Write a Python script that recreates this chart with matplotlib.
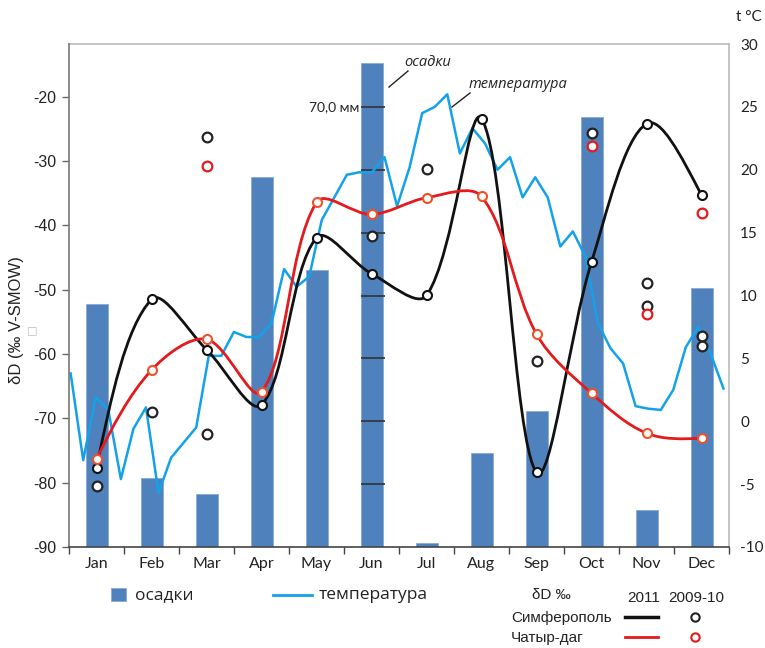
import numpy as np
import matplotlib
matplotlib.use("Agg")
import matplotlib.pyplot as plt
from matplotlib.path import Path
from matplotlib.patches import PathPatch, Rectangle
from matplotlib.lines import Line2D

plt.rcParams['axes.unicode_minus'] = False

# --- data ---
months = ['Jan', 'Feb', 'Mar', 'Apr', 'May', 'Jun', 'Jul', 'Aug', 'Sep', 'Oct', 'Nov', 'Dec']
precip_mm = [38.7, 11.0, 8.4, 58.9, 44.1, 77.0, 0.6, 15.0, 21.6, 68.4, 5.9, 41.2]

# weekly mean temperature, deg C
temp_weekly = [3.8, -3.1, 1.9, 0.9, -4.6, -0.6, 1.1, -5.7, -2.9, -1.7, -0.5,
               5.2, 5.2, 7.1, 6.7, 6.7, 7.8, 12.1, 10.7, 11.5, 16.0, 17.8,
               19.6, 19.8, 19.8, 21.0, 17.1, 20.2, 24.5, 25.0, 26.0, 21.3,
               23.3, 22.1, 20.0, 21.0, 17.8, 19.4, 17.8, 13.9, 15.1, 13.1,
               7.8, 5.8, 4.6, 1.2, 1.0, 0.9, 2.5, 5.9, 7.5, 5.3, 2.6]

# dD 2011, monthly
simf_2011 = [-77.7, -51.5, -59.3, -67.9, -41.9, -47.5, -50.9, -23.4, -78.4, -45.7, -24.2, -35.3]
chatyr_2011 = [-76.3, -62.5, -57.7, -65.9, -36.4, -38.3, -35.7, -35.5, -56.9, -66.1, -72.3, -73.1]

# dD 2009-10 (month index, value)
simf_0910_month = [0, 1, 2, 2, 5, 6, 8, 9, 10, 10, 11, 11]
simf_0910_val = [-80.5, -69.0, -72.5, -26.3, -41.6, -31.3, -61.1, -25.6, -49.0, -52.6, -57.2, -58.8]
chatyr_0910_month = [2, 9, 10, 11]
chatyr_0910_val = [-30.8, -27.7, -53.7, -38.1]

gauge_mm = [10, 20, 30, 40, 50, 60, 70]

W, H = 765, 648
BAR = '#4F81BD'
TEMP = '#13A2E9'
RED = '#E41A1C'
REDM = '#F0502A'


def fp(x, y):
    return x / W, 1 - y / H


def smooth_path(xs, ys, sx=55.0, sy=6.43):
    # excel-like smoothed line: bezier, tangents weighted by on-screen segment length
    pts = np.column_stack([xs, ys]).astype(float)
    n = len(pts)
    scr = pts * [sx, sy]
    d = np.hypot(*np.diff(scr, axis=0).T)
    out_c = []
    in_c = []
    for i in range(n):
        if i == 0 or i == n - 1:
            out_c.append(pts[i])
            in_c.append(pts[i])
            continue
        t = (pts[i + 1] - pts[i - 1]) / 3.0
        tot = d[i - 1] + d[i]
        out_c.append(pts[i] + t * d[i] / tot)
        in_c.append(pts[i] - t * d[i - 1] / tot)
    verts = [pts[0]]
    codes = [Path.MOVETO]
    for i in range(n - 1):
        if i == 0:
            c1 = pts[0] + (in_c[1] - pts[0]) / 2
        else:
            c1 = out_c[i]
        if i + 1 == n - 1:
            c2 = pts[-1] + (out_c[-2] - pts[-1]) / 2
        else:
            c2 = in_c[i + 1]
        verts += [c1, c2, pts[i + 1]]
        codes += [Path.CURVE4] * 3
    return Path(verts, codes)


fig = plt.figure(figsize=(W / 100, H / 100), dpi=100)
rect = [69 / W, 1 - 547 / H, (729 - 69) / W, (547 - 44) / H]
ax = fig.add_axes(rect)
axp = ax.twinx()
axt = ax.twinx()
axp.set_zorder(0)
axt.set_zorder(1)
ax.set_zorder(2)
ax.patch.set_visible(False)
axt.patch.set_visible(False)

x = np.arange(12)

# precipitation bars (hidden scale 0..80 mm)
axp.bar(x, precip_mm, width=0.4, color=BAR, edgecolor='#8AAAD3', linewidth=0.6)
axp.set_ylim(0, 80)
axp.hlines(gauge_mm, 4.8, 5.24, color='#333333', lw=1.2, zorder=3)
axp.text(4.78, 70, '70,0 мм', ha='right', va='center', fontsize=10,
         family=['Lato', 'Open Sans', 'DejaVu Sans'], color='#222222')
axp.set_yticks([])
for s in axp.spines.values():
    s.set_visible(False)

# temperature
week_x = -0.47 + np.arange(len(temp_weekly)) * (11.4 + 0.47) / (len(temp_weekly) - 1)
axt.plot(week_x, temp_weekly, color=TEMP, lw=1.8)
axt.set_ylim(-10, 30)
axt.set_yticks(range(-10, 31, 5))
axt.tick_params(axis='y', length=0, pad=8, labelsize=11, labelcolor='#222222')
for lab in axt.get_yticklabels():
    lab.set_family(['Lato', 'DejaVu Sans'])
for k, s in axt.spines.items():
    s.set_visible(k in ('right', 'top'))
    s.set_color('#BBBBBB')
    s.set_linewidth(1.2)

# dD curves
ax.add_patch(PathPatch(smooth_path(x, simf_2011), fill=False, edgecolor='#111111', lw=2))
ax.add_patch(PathPatch(smooth_path(x, chatyr_2011), fill=False, edgecolor=RED, lw=2))
ax.plot(x, simf_2011, 'o', ms=6.5, mfc='white', mec='#111111', mew=1.5, ls='none')
ax.plot(x, chatyr_2011, 'o', ms=6.5, mfc='white', mec=REDM, mew=1.5, ls='none')
ax.plot(simf_0910_month, simf_0910_val, 'o', ms=7, mfc='white', mec='#222222', mew=1.6, ls='none')
ax.plot(chatyr_0910_month, chatyr_0910_val, 'o', ms=7, mfc='white', mec=RED, mew=1.6, ls='none')

ax.set_xlim(-0.5, 11.5)
ax.set_ylim(-90, -11.8)
ax.set_yticks(range(-90, -19, 10))
ax.tick_params(axis='y', direction='out', length=5, width=1, color='#666666',
               pad=4, labelsize=11.5, labelcolor='#222222')
for lab in ax.get_yticklabels():
    lab.set_family('Liberation Sans')
ax.set_xticks(x)
ax.set_xticklabels(months)
ax.set_xticks(np.arange(-0.5, 12, 1), minor=True)
ax.tick_params(axis='x', which='major', length=0, pad=7, labelsize=11.5, labelcolor='#222222')
ax.tick_params(axis='x', which='minor', direction='out', length=5, width=1, color='#444444')
for lab in ax.get_xticklabels():
    lab.set_family(['Lato', 'DejaVu Sans'])
for k, s in ax.spines.items():
    s.set_visible(k in ('left', 'bottom'))
ax.spines['left'].set_color('#777777')
ax.spines['left'].set_linewidth(1.2)
ax.spines['bottom'].set_color('#444444')
ax.spines['bottom'].set_linewidth(1.2)

# axis titles
fig.text(*fp(17, 320), 'δD (‰ V-SMOW)', rotation=90, ha='center', va='center',
         fontsize=12, family='Liberation Sans', color='#222222')
fig.text(*fp(32, 330), '□', ha='center', va='center', fontsize=8, color='#BBBBBB')
fig.text(*fp(749, 17), 't °C', ha='center', va='center', fontsize=11,
         family=['Lato', 'DejaVu Sans'], color='#222222')

# in-plot captions with leader lines
ifam = ['Open Sans', 'DejaVu Sans']
fig.text(*fp(428, 62), 'осадки', ha='center', va='center', fontsize=10.5,
         style='italic', family=ifam, color='#222222')
fig.add_artist(Line2D([389 / W, 408 / W], [1 - 87 / H, 1 - 71 / H], color='#222222', lw=1))
fig.text(*fp(518, 84), 'температура', ha='center', va='center', fontsize=10.5,
         style='italic', family=ifam, color='#222222')
fig.add_artist(Line2D([452 / W, 470 / W], [1 - 107 / H, 1 - 93 / H], color='#222222', lw=1))

# legend
lfam = ['Open Sans', 'DejaVu Sans']
fig.add_artist(Rectangle(fp(111, 601), 15 / W, 13 / H, transform=fig.transFigure,
                         facecolor=BAR, edgecolor='#8AAAD3', lw=0.6))
fig.text(*fp(135, 595), 'осадки', ha='left', va='center', fontsize=12.5, family=lfam, color='#222222')
fig.add_artist(Line2D([273 / W, 312 / W], [1 - 595 / H] * 2, color=TEMP, lw=2))
fig.text(*fp(319, 595), 'температура', ha='left', va='center', fontsize=12.5, family=lfam, color='#222222')

afam = 'Liberation Sans'
fig.text(*fp(551, 595), 'δD ‰', ha='center', va='center', fontsize=11, family=afam, color='#222222')
fig.text(*fp(644, 598), '2011', ha='center', va='center', fontsize=11, family=afam, color='#222222')
fig.text(*fp(696, 598), '2009-10', ha='center', va='center', fontsize=11, family=afam, color='#222222')
fig.text(*fp(511, 618), 'Симферополь', ha='left', va='center', fontsize=11, family=afam, color='#222222')
fig.text(*fp(511, 638), 'Чатыр-даг', ha='left', va='center', fontsize=11, family=afam, color='#222222')
fig.add_artist(Line2D([625 / W, 658 / W], [1 - 617 / H] * 2, color='#111111', lw=2.5))
fig.add_artist(Line2D([625 / W, 658 / W], [1 - 637 / H] * 2, color=RED, lw=2))
fig.add_artist(Line2D([695 / W], [1 - 617 / H], marker='o', ms=6, mfc='white', mec='#222222', mew=1.5))
fig.add_artist(Line2D([695 / W], [1 - 637 / H], marker='o', ms=6, mfc='white', mec=RED, mew=1.5))

fig.savefig('out.png', dpi=100, facecolor='white')
